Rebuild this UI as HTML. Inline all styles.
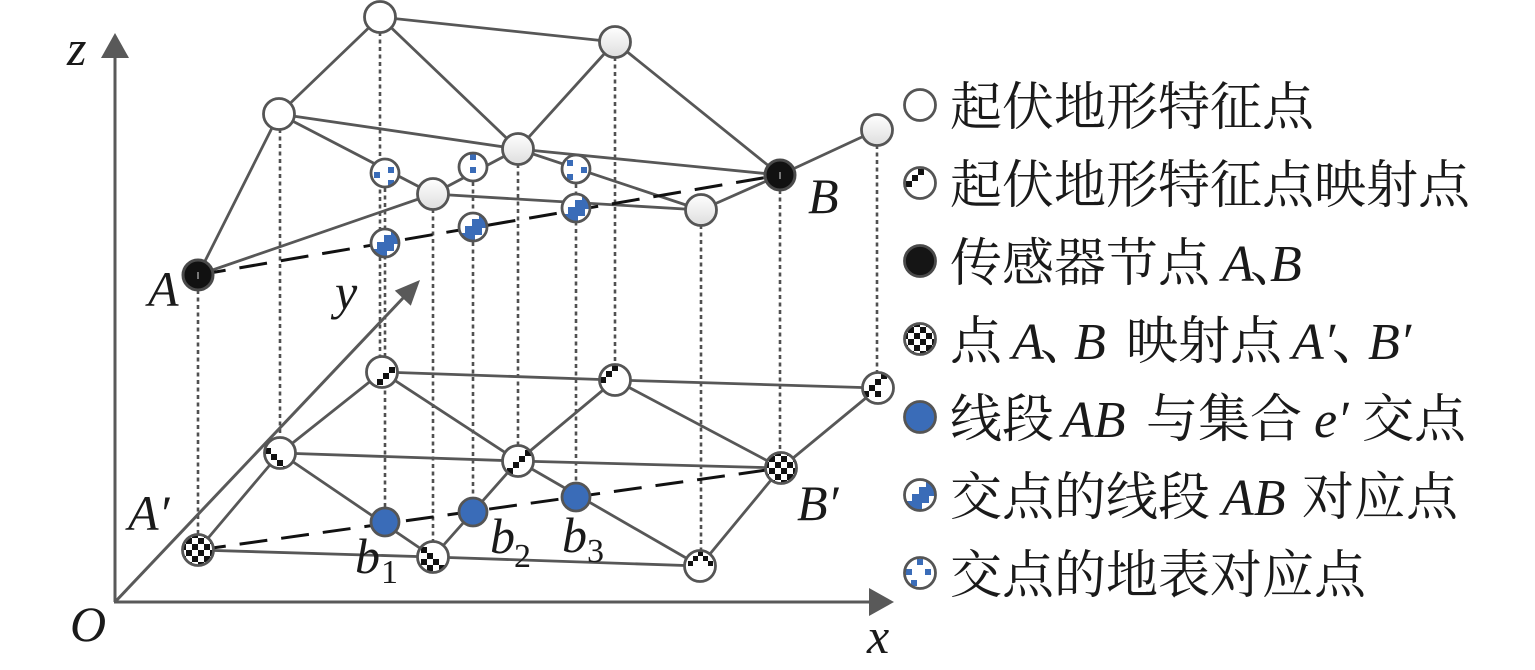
<!DOCTYPE html>
<html><head><meta charset="utf-8"><style>
html,body{margin:0;padding:0;background:#fff;}
svg{display:block;}
</style></head><body>
<svg width="1535" height="670" viewBox="0 0 1535 670" xmlns="http://www.w3.org/2000/svg">
<defs>
<linearGradient id="g" x1="0" y1="0" x2="0" y2="1"><stop offset="0" stop-color="#ffffff"/><stop offset="1" stop-color="#dedede"/></linearGradient>
<pattern id="chk" width="12" height="12" patternUnits="userSpaceOnUse" x="0" y="0"><rect width="12" height="12" fill="#fff"/><rect width="6" height="6" fill="#111"/><rect x="6" y="6" width="6" height="6" fill="#111"/></pattern>
<clipPath id="c16"><circle r="15"/></clipPath>
<clipPath id="c14"><circle r="13.5"/></clipPath>
</defs>
<rect width="1535" height="670" fill="#fff"/>

<!-- dotted verticals -->
<g stroke="#505050" stroke-width="2.6" stroke-dasharray="4 3.5" fill="none">
<line x1="198" y1="275" x2="198" y2="550"/>
<line x1="280" y1="114" x2="280" y2="453"/>
<line x1="380" y1="17" x2="380" y2="372"/>
<line x1="385" y1="173" x2="385" y2="522"/>
<line x1="433" y1="194" x2="433" y2="557"/>
<line x1="473" y1="167" x2="473" y2="512"/>
<line x1="518" y1="149" x2="518" y2="461"/>
<line x1="576" y1="169" x2="576" y2="497"/>
<line x1="615" y1="42" x2="615" y2="380"/>
<line x1="701" y1="210" x2="701" y2="566"/>
<line x1="780" y1="175" x2="780" y2="468"/>
<line x1="877" y1="130" x2="877" y2="388"/>
</g>

<!-- axes -->
<g stroke="#595959" stroke-width="3" fill="none">
<line x1="115" y1="602" x2="115" y2="56"/>
<line x1="114" y1="602" x2="872" y2="602"/>
<line x1="115" y1="602" x2="404" y2="297"/>
</g>
<g fill="#595959">
<polygon points="115,33 101,58 129,58"/>
<polygon points="894,602 869,588 869,616"/>
<polygon points="420,280 394.8,290.6 410.8,305.8"/>
</g>

<!-- edges -->
<g stroke="#575757" stroke-width="2.8" fill="none" stroke-linecap="round">
<line x1="380" y1="17" x2="615" y2="42"/>
<line x1="380" y1="17" x2="279" y2="114"/>
<line x1="380" y1="17" x2="518" y2="149"/>
<line x1="615" y1="42" x2="518" y2="149"/>
<line x1="615" y1="42" x2="780" y2="175"/>
<line x1="780" y1="175" x2="877" y2="130"/>
<line x1="279" y1="114" x2="198" y2="275"/>
<line x1="279" y1="114" x2="518" y2="149"/>
<line x1="518" y1="149" x2="780" y2="175"/>
<line x1="279" y1="114" x2="433" y2="194"/>
<line x1="433" y1="194" x2="518" y2="149"/>
<line x1="518" y1="149" x2="701" y2="210"/>
<line x1="433" y1="194" x2="701" y2="210"/>
<line x1="701" y1="210" x2="780" y2="175"/>
<line x1="198" y1="275" x2="433" y2="194"/>

<line x1="382" y1="372" x2="615" y2="380"/>
<line x1="382" y1="372" x2="280" y2="453"/>
<line x1="382" y1="372" x2="518" y2="461"/>
<line x1="280" y1="453" x2="518" y2="461"/>
<line x1="280" y1="453" x2="198" y2="550"/>
<line x1="280" y1="453" x2="433" y2="557"/>
<line x1="433" y1="557" x2="518" y2="461"/>
<line x1="518" y1="461" x2="615" y2="380"/>
<line x1="518" y1="461" x2="700" y2="566"/>
<line x1="518" y1="461" x2="781" y2="468"/>
<line x1="615" y1="380" x2="781" y2="468"/>
<line x1="781" y1="468" x2="878" y2="388"/>
<line x1="781" y1="468" x2="700" y2="566"/>
<line x1="198" y1="550" x2="433" y2="557"/>
<line x1="433" y1="557" x2="700" y2="566"/>
<line x1="615" y1="380" x2="878" y2="388"/>
</g>

<!-- dashed AB and A'B' -->
<g stroke="#111" stroke-width="3" fill="none" stroke-dasharray="28 14">
<line x1="198" y1="275" x2="780" y2="175"/>
<line x1="198" y1="550" x2="781" y2="468"/>
</g>

<!-- top terrain nodes -->
<g stroke="#555" stroke-width="2.8">
<circle cx="380" cy="17" r="15.5" fill="#fff"/>
<circle cx="279" cy="114" r="15.5" fill="#fff"/>
<circle cx="615" cy="42" r="15.5" fill="url(#g)"/>
<circle cx="518" cy="149" r="15.5" fill="url(#g)"/>
<circle cx="433" cy="194" r="15.5" fill="url(#g)"/>
<circle cx="877" cy="130" r="15.5" fill="url(#g)"/>
<circle cx="701" cy="210" r="15.5" fill="url(#g)"/>
</g>

<!-- black sensor nodes -->
<g>
<circle cx="198" cy="275" r="15" fill="#111" stroke="#4a4a4a" stroke-width="3"/>
<line x1="198" y1="272" x2="198" y2="279" stroke="#777" stroke-width="2"/>
<circle cx="780" cy="175" r="15" fill="#111" stroke="#4a4a4a" stroke-width="3"/>
<line x1="780" y1="172" x2="780" y2="179" stroke="#777" stroke-width="2"/>
</g>

<!-- surface correspondence (blue dots) -->
<g transform="translate(385,173)"><circle r="14" fill="#fff"/><g clip-path="url(#c14)" fill="#3a6cb8"><rect x="-11" y="-1" width="6" height="6"/><rect x="3" y="-6" width="6" height="6"/><rect x="3" y="7" width="6" height="6"/></g><circle r="14" fill="none" stroke="#555" stroke-width="2.8"/></g>
<g transform="translate(473,167)"><circle r="14" fill="#fff"/><g clip-path="url(#c14)" fill="#3a6cb8"><rect x="-3" y="-13" width="6" height="6"/><rect x="-3" y="0" width="6" height="6"/></g><circle r="14" fill="none" stroke="#555" stroke-width="2.8"/></g>
<g transform="translate(576,169)"><circle r="14" fill="#fff"/><g clip-path="url(#c14)" fill="#3a6cb8"><rect x="-9" y="-9" width="6" height="6"/><rect x="5" y="-2" width="6" height="6"/><rect x="-9" y="5" width="6" height="6"/></g><circle r="14" fill="none" stroke="#555" stroke-width="2.8"/></g>

<!-- segment correspondence (blue staircase) -->
<g transform="translate(385,243)"><circle r="14" fill="#fff"/><path clip-path="url(#c14)" fill="#3a6cb8" d="M-16,6 L-8,6 L-8,-1 L-1,-1 L-1,-8 L6,-8 L6,-16 L16,-16 L16,1 L9,1 L9,8 L2,8 L2,16 L-16,16 Z"/><circle r="14" fill="none" stroke="#555" stroke-width="2.8"/></g>
<g transform="translate(473,227)"><circle r="14" fill="#fff"/><path clip-path="url(#c14)" fill="#3a6cb8" d="M-16,6 L-8,6 L-8,-1 L-1,-1 L-1,-8 L6,-8 L6,-16 L16,-16 L16,1 L9,1 L9,8 L2,8 L2,16 L-16,16 Z"/><circle r="14" fill="none" stroke="#555" stroke-width="2.8"/></g>
<g transform="translate(576,208)"><circle r="14" fill="#fff"/><path clip-path="url(#c14)" fill="#3a6cb8" d="M-16,6 L-8,6 L-8,-1 L-1,-1 L-1,-8 L6,-8 L6,-16 L16,-16 L16,1 L9,1 L9,8 L2,8 L2,16 L-16,16 Z"/><circle r="14" fill="none" stroke="#555" stroke-width="2.8"/></g>

<!-- bottom mapping nodes -->
<g transform="translate(382,372)"><circle r="15.5" fill="#fff"/><g clip-path="url(#c16)" fill="#111"><rect x="7" y="-5" width="6" height="6"/><rect x="1" y="1" width="6" height="6"/><rect x="-5" y="7" width="6" height="6"/><rect x="-11" y="13" width="6" height="6"/></g><circle r="15.5" fill="none" stroke="#555" stroke-width="2.8"/></g>
<g transform="translate(280,453)"><circle r="15.5" fill="#fff"/><g clip-path="url(#c16)" fill="#111"><rect x="-15" y="-5" width="6" height="6"/><rect x="-9" y="1" width="6" height="6"/><rect x="-3" y="7" width="6" height="6"/><rect x="3" y="13" width="6" height="6"/></g><circle r="15.5" fill="none" stroke="#555" stroke-width="2.8"/></g>
<g transform="translate(518,461)"><circle r="15.5" fill="#fff"/><g clip-path="url(#c16)" fill="#111"><rect x="7" y="-11" width="6" height="6"/><rect x="1" y="-5" width="6" height="6"/><rect x="-5" y="1" width="6" height="6"/><rect x="-11" y="7" width="6" height="6"/></g><circle r="15.5" fill="none" stroke="#555" stroke-width="2.8"/></g>
<g transform="translate(433,557)"><circle r="15.5" fill="#fff"/><g clip-path="url(#c16)" fill="#111"><rect x="-12" y="-10" width="6" height="6"/><rect x="-6" y="-4" width="6" height="6"/><rect x="0" y="2" width="6" height="6"/><rect x="6" y="8" width="6" height="6"/><rect x="-12" y="2" width="6" height="6"/><rect x="-6" y="8" width="6" height="6"/></g><circle r="15.5" fill="none" stroke="#555" stroke-width="2.8"/></g>
<g transform="translate(615,380)"><circle r="15.5" fill="#fff"/><g clip-path="url(#c16)" fill="#111"><rect x="-15" y="-3" width="6" height="6"/><rect x="-9" y="-9" width="6" height="6"/><rect x="-3" y="-15" width="6" height="6"/></g><circle r="15.5" fill="none" stroke="#555" stroke-width="2.8"/></g>
<g transform="translate(878,388)"><circle r="15.5" fill="#fff"/><g clip-path="url(#c16)" fill="#111"><rect x="3" y="-15" width="6" height="6"/><rect x="-3" y="-9" width="6" height="6"/><rect x="-9" y="-3" width="6" height="6"/><rect x="-15" y="3" width="6" height="6"/><rect x="-3" y="3" width="6" height="6"/></g><circle r="15.5" fill="none" stroke="#555" stroke-width="2.8"/></g>
<g transform="translate(700,566)"><circle r="15.5" fill="#fff"/><g clip-path="url(#c16)" fill="#111"><rect x="-2" y="-15" width="5" height="5"/><rect x="-7" y="-10" width="5" height="5"/><rect x="3" y="-10" width="5" height="5"/><rect x="8" y="-5" width="5" height="5"/><rect x="-12" y="-5" width="5" height="5"/></g><circle r="15.5" fill="none" stroke="#555" stroke-width="2.8"/></g>

<!-- A', B' checker -->
<g transform="translate(198,550)"><circle r="15.5" fill="url(#chk)" stroke="#555" stroke-width="2.8"/></g>
<g transform="translate(781,468)"><circle r="15.5" fill="url(#chk)" stroke="#555" stroke-width="2.8"/></g>

<!-- blue intersection nodes -->
<g fill="#3a6cb8" stroke="#555" stroke-width="2.8">
<circle cx="385" cy="522" r="14"/>
<circle cx="473" cy="512" r="14"/>
<circle cx="576" cy="497" r="14"/>
</g>

<!-- diagram labels -->
<g font-family="'Liberation Serif','DejaVu Serif',serif" font-style="italic" font-size="50" fill="#1a1a1a">
<text x="67" y="65">z</text>
<text x="148" y="306">A</text>
<text x="808" y="213">B</text>
<text x="128" y="530">A′</text>
<text x="797" y="520">B′</text>
<text x="70" y="641">O</text>
<text x="867" y="653">x</text>
<text x="335" y="309">y</text>
<text x="355" y="573">b</text>
<text x="490" y="553">b</text>
<text x="562" y="552">b</text>
</g>
<g font-family="'Liberation Serif','DejaVu Serif',serif" font-size="34" fill="#1a1a1a">
<text x="381" y="583">1</text>
<text x="514" y="567">2</text>
<text x="587" y="562">3</text>
</g>

<!-- legend icons -->
<circle cx="920" cy="105" r="15.5" fill="#fff" stroke="#555" stroke-width="2.8"/>
<g transform="translate(920,183)"><circle r="15.5" fill="#fff"/><g clip-path="url(#c16)" fill="#111"><rect x="-14" y="-2" width="6" height="6"/><rect x="-8" y="-8" width="6" height="6"/><rect x="-2" y="-14" width="6" height="6"/></g><circle r="15.5" fill="none" stroke="#555" stroke-width="2.8"/></g>
<circle cx="920" cy="261" r="15.5" fill="#151515" stroke="#4a4a4a" stroke-width="2.8"/>
<g transform="translate(920,339)"><circle r="15.5" fill="url(#chk)" stroke="#555" stroke-width="2.8"/></g>
<circle cx="920" cy="417" r="15.5" fill="#3a6cb8" stroke="#555" stroke-width="2.8"/>
<g transform="translate(920,495)"><circle r="15" fill="#fff"/><path clip-path="url(#c16)" fill="#3a6cb8" d="M-17,6 L-8,6 L-8,-1 L-1,-1 L-1,-8 L6,-8 L6,-17 L17,-17 L17,1 L9,1 L9,8 L2,8 L2,17 L-17,17 Z"/><circle r="15.5" fill="none" stroke="#555" stroke-width="2.8"/></g>
<g transform="translate(920,573)"><circle r="15.5" fill="#fff"/><g clip-path="url(#c16)" fill="#3a6cb8"><rect x="-3" y="-14" width="6" height="6"/><rect x="-14" y="-4" width="6" height="6"/><rect x="5" y="-4" width="6" height="6"/><rect x="-9" y="7" width="6" height="6"/></g><circle r="15.5" fill="none" stroke="#555" stroke-width="2.8"/></g>

<!-- legend text -->
<g font-family="'Liberation Serif','Noto Serif CJK SC',serif" font-size="52" fill="#1a1a1a">
<text x="950" y="125">起伏地形特征点</text>
<text x="950" y="203">起伏地形特征点映射点</text>
<text x="950" y="281">传感器节点</text>
<text x="1222" y="281" font-style="italic">A</text>
<text x="1250" y="281">、</text>
<text x="1270" y="281" font-style="italic">B</text>
<text x="950" y="359">点</text>
<text x="1012" y="359" font-style="italic">A</text>
<text x="1040" y="359">、</text>
<text x="1074" y="359" font-style="italic">B</text>
<text x="1126" y="359">映射点</text>
<text x="1292" y="359" font-style="italic">A′</text>
<text x="1332" y="359">、</text>
<text x="1368" y="359" font-style="italic">B′</text>
<text x="950" y="437">线段</text>
<text x="1062" y="437" font-style="italic">AB</text>
<text x="1146" y="437">与集合</text>
<text x="1314" y="437" font-style="italic">e′</text>
<text x="1362" y="437">交点</text>
<text x="950" y="515">交点的线段</text>
<text x="1222" y="515" font-style="italic">AB</text>
<text x="1302" y="515">对应点</text>
<text x="950" y="593">交点的地表对应点</text>
</g>
</svg>
</body></html>
